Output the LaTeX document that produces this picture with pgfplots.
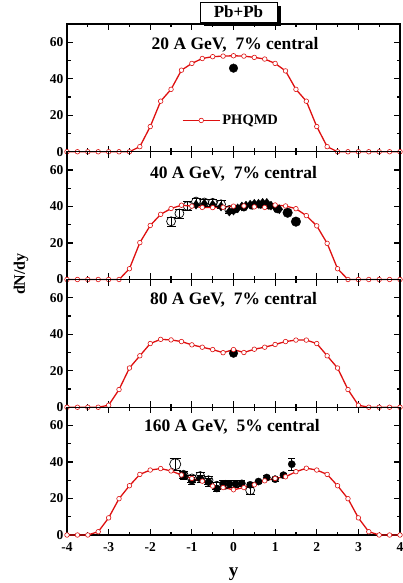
\documentclass[border=0pt]{standalone}
\usepackage{fontspec}
\setmainfont{Liberation Serif}
\usepackage{pgfplots}
\pgfplotsset{compat=1.18}
\usetikzlibrary{shadows}
\definecolor{phq}{RGB}{222,16,16}
\tikzset{lbl/.style={font=\bfseries\fontsize{17.5}{20}\selectfont}}
\pgfplotsset{
 panel/.style={
  width=333pt, height=127.75pt, scale only axis, anchor=north west,
  xmin=-4, xmax=4, ymin=0, ymax=70,
  xtick={-4,-3,...,4}, ytick={0,20,40,60},
  minor x tick num=1, minor y tick num=1,
  tick align=inside, tick pos=both,
  major tick length=6pt, minor tick length=3.5pt,
  axis line style={line width=1.4pt},
  every tick/.append style={black, line width=1.2pt},
  tick label style={font=\bfseries\fontsize{13.5}{15}\selectfont},
  xticklabel style={yshift=-4pt},
  yticklabel style={xshift=0pt},
  /pgf/number format/assume math mode=true,
  clip=false,
 },
 phqmd/.style={phq, line width=1.3pt, mark=*, mark size=2.3pt, mark options={fill=white, draw=phq, line width=0.6pt, solid}},
 datpt/.style={black, only marks, mark=*, mark size=4.3pt},
 ebar/.style={error bars/y dir=both, error bars/y explicit, error bars/error bar style={line width=0.9pt, black}},
 opn/.style={ebar, black, only marks, mark=o, mark size=4.5pt, mark options={line width=0.7pt}},
 fil/.style={ebar, black, only marks, mark=*, mark size=3.6pt},
}
\begin{document}
\begin{tikzpicture}
\path[use as bounding box] (-67pt,24pt) rectangle (336pt,-559pt);
% ---------- 20 A GeV
\begin{axis}[panel, at={(0pt,0pt)}, xticklabels={},
  legend style={at={(rel axis cs:0.345,0.245)}, anchor=west, draw=none, fill=none,
    font=\bfseries\fontsize{14.5}{16}\selectfont, inner sep=0pt},
  legend image code/.code={\draw[mark repeat=2,mark phase=2,#1] plot coordinates {(0pt,0pt) (18.5pt,0pt) (37pt,0pt)};}]
\addplot[datpt, forget plot] coordinates {(0,45.8)};
\addplot[phqmd] coordinates {
(-4,0) (-3.75,0) (-3.5,0) (-3.25,0) (-3,0) (-2.75,0) (-2.5,0) (-2.25,2.8)
(-2,13.8) (-1.75,27.7) (-1.5,34.2) (-1.25,44.7) (-1,48.4) (-0.75,51.1)
(-0.5,52.1) (-0.25,52.4) (0,52.6) (0.25,52.4) (0.5,51.7) (0.75,50.8)
(1,48.4) (1.25,44.3) (1.5,34.2) (1.75,27.7) (2,13.8) (2.25,2.8)
(2.5,0) (2.75,0) (3,0) (3.25,0) (3.5,0) (3.75,0) (4,0)};
\addlegendentry{PHQMD}
\node[lbl] at (rel axis cs:0.505,0.84) {20 A GeV,\ \ 7\% central};
\end{axis}
% ---------- 40 A GeV
\begin{axis}[panel, at={(0pt,-127.75pt)}, xticklabels={}]
\addplot[opn] coordinates {
(-1.5,31.9) +- (0,2.5) (-1.3,36.2) +- (0,2.5) (-1.1,40.3) +- (0,2.5)
(-0.9,42.7) +- (0,2) (-0.7,42.2) +- (0,2) (-0.5,42.0) +- (0,2)
(-0.3,41.2) +- (0,2) (-0.1,38.1) +- (0,2)};
\addplot[black, only marks, mark=diamond*, mark size=4.5pt] coordinates {
(-0.9,41) (-0.7,41.5) (-0.5,41) (-0.3,40) (-0.1,37.2) (0.0,37.8) (0.1,39)
(0.2,40) (0.3,40.5) (0.4,41) (0.5,41.5) (0.6,41.5) (0.7,42) (0.8,42)
(0.9,40.5) (1.0,39.5) (1.1,38.5)};
\addplot[black, only marks, mark=*, mark size=3.8pt] coordinates {
(0.05,38.5) (0.25,39.5) (0.45,40.5) (0.65,41) (0.85,40.5) (1.05,38.5)};
\addplot[black, only marks, mark=*, mark size=4.8pt] coordinates {(1.3,36.6) (1.5,31.7)};
\addplot[phqmd] coordinates {
(-4,0) (-3.75,0) (-3.5,0) (-3.25,0) (-3,0) (-2.75,0) (-2.5,5.9) (-2.25,20.2)
(-2,29.6) (-1.75,35.7) (-1.5,38.9) (-1.25,40.7) (-1,40.2) (-0.75,39.5)
(-0.5,39.4) (-0.25,39.6) (0,40.2) (0.25,40.3) (0.5,39.8) (0.75,39.5)
(1,40.8) (1.25,40.3) (1.5,38.8) (1.75,35) (2,29.4) (2.25,19.8)
(2.5,5.9) (2.75,0) (3,0) (3.25,0) (3.5,0) (3.75,0) (4,0)};
\node[lbl] at (rel axis cs:0.5,0.83) {40 A GeV,\ \ 7\% central};
\end{axis}
% ---------- 80 A GeV
\begin{axis}[panel, at={(0pt,-255.5pt)}, xticklabels={}]
\addplot[datpt] coordinates {(0,29.6)};
\addplot[phqmd] coordinates {
(-4,0) (-3.75,0) (-3.5,0) (-3.25,0) (-3,1.1) (-2.75,9.7) (-2.5,21.5) (-2.25,28.2)
(-2,34.9) (-1.75,37.2) (-1.5,36.9) (-1.25,36.0) (-1,34.2) (-0.75,32.9)
(-0.5,31.6) (-0.25,29.9) (0,31.6) (0.25,30) (0.5,31.8) (0.75,32.9)
(1,34.4) (1.25,36.0) (1.5,36.8) (1.75,36.8) (2,34.9) (2.25,28.2)
(2.5,21.5) (2.75,9.7) (3,1.1) (3.25,0) (3.5,0) (3.75,0) (4,0)};
\node[lbl] at (rel axis cs:0.5,0.84) {80 A GeV,\ \ 7\% central};
\end{axis}
% ---------- 160 A GeV
\begin{axis}[panel, at={(0pt,-383.25pt)}, xlabel={y},
  xlabel style={font=\bfseries\fontsize{19}{21}\selectfont, at={(rel axis cs:0.5,0)}, anchor=center, yshift=-39pt}]
\addplot[opn] coordinates {
(-1.2,33) +- (0,2) (-1.0,31) +- (0,2) (-0.8,32.3) +- (0,2) (-0.6,30) +- (0,2)
(-0.4,27) +- (0,2) (-0.2,27.5) +- (0,2) (0.4,24.5) +- (0,2)};
\addplot[opn, mark size=5.6pt] coordinates {(-1.4,38.8) +- (0,3.5)};
\addplot[fil] coordinates {
(-1.2,32.5) +- (0,2) (-1.0,29.8) +- (0,2) (-0.8,31) +- (0,2) (-0.6,29) +- (0,2)
(-0.4,25.5) +- (0,1.5) (-0.25,28) +- (0,2) (-0.1,28) +- (0,2) (0.05,28) +- (0,2)
(0.2,28.3) +- (0,1.5) (0.4,27.5) +- (0,1.5) (0.6,29.3) +- (0,1) (0.8,31.5) +- (0,1)
(1.0,30.6) +- (0,1) (1.2,32.8) +- (0,1) (1.4,38.8) +- (0,3.2)};
\addplot[phqmd] coordinates {
(-4,0) (-3.75,0) (-3.5,0) (-3.25,1.8) (-3,9.4) (-2.75,19.9) (-2.5,27) (-2.25,33.2)
(-2,35.6) (-1.75,36.4) (-1.5,35.1) (-1.25,32.9) (-1,31.0) (-0.75,29.5)
(-0.5,26.8) (-0.25,26) (0,24.8) (0.25,26) (0.5,27.5) (0.75,29.7)
(1,31) (1.25,31.9) (1.5,34.7) (1.75,36.6) (2,35.6) (2.25,33.2)
(2.5,27) (2.75,19.9) (3,9.4) (3.25,1.8) (3.5,0) (3.75,0) (4,0)};
\node[lbl] at (rel axis cs:0.495,0.846) {160 A GeV,\ \ 5\% central};
\end{axis}
% y label and title box
\node[rotate=90, font=\bfseries\fontsize{16}{18}\selectfont] at (-46pt,-250pt) {dN/dy};
\node[draw=black, line width=0.8pt, fill=white, minimum width=77pt, minimum height=20pt,
  inner sep=0pt, font=\bfseries\fontsize{17}{19}\selectfont,
  drop shadow={shadow xshift=4pt, shadow yshift=-4pt, fill=black, opacity=1}]
  at (171.5pt,12pt) {Pb+Pb};
\end{tikzpicture}
\end{document}
